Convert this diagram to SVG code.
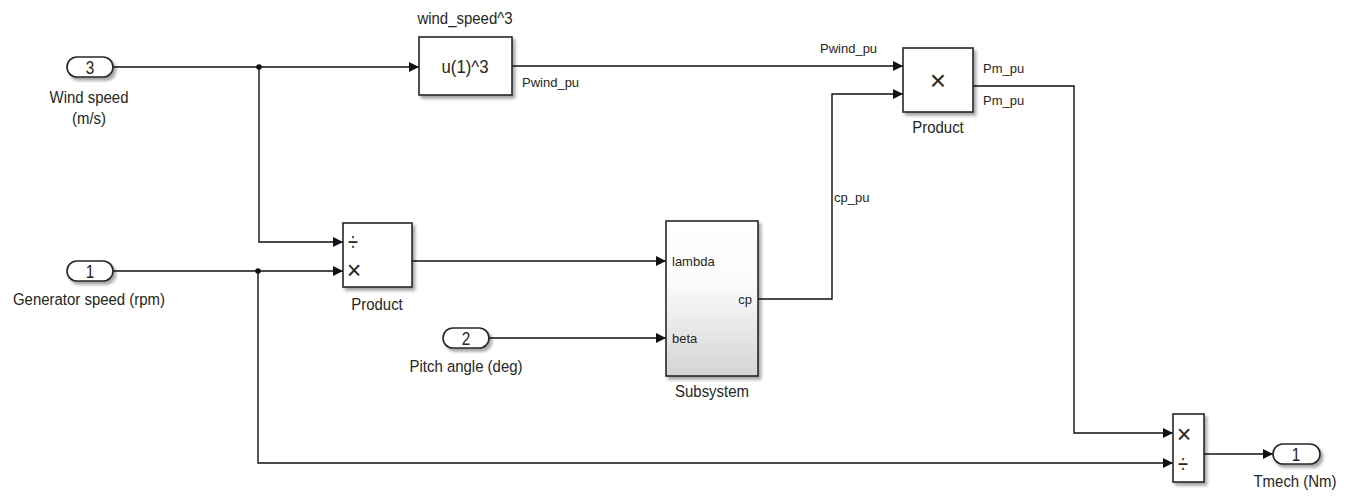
<svg xmlns="http://www.w3.org/2000/svg" width="1353" height="498" viewBox="0 0 1353 498">
<style>
  .blk { fill: #ffffff; stroke: #262626; stroke-width: 1.6; }
  .port { fill: #ffffff; stroke: #262626; stroke-width: 1.6; }
  .ln { fill: none; stroke: #111; stroke-width: 1.4; }
  .t { font-family: "Liberation Sans", Arial, sans-serif; fill: #262626; }
  .lbl { font-size: 17px; text-anchor: middle; }
  .num { font-size: 18px; text-anchor: middle; }
  .sig { font-size: 13px; }
</style>
<defs>
  <filter id="sh" x="-20%" y="-20%" width="150%" height="150%">
    <feDropShadow dx="2.5" dy="3" stdDeviation="1.8" flood-color="#000" flood-opacity="0.35"/>
  </filter>
  <linearGradient id="sub" x1="0" y1="0" x2="0" y2="1">
    <stop offset="0" stop-color="#ffffff"/>
    <stop offset="0.4" stop-color="#fbfbfb"/>
    <stop offset="1" stop-color="#d4d4d4"/>
  </linearGradient>
  <marker id="ar" viewBox="0 0 10 10" refX="10" refY="5" markerWidth="10" markerHeight="10" markerUnits="userSpaceOnUse" orient="auto">
    <path d="M0,0 L10,5 L0,10 z" fill="#111"/>
  </marker>
</defs>

<g id="connectors">
  <path class="ln" d="M113,67 H419" marker-end="url(#ar)"/>
  <path class="ln" d="M259,67 V242 H343" marker-end="url(#ar)"/>
  <path class="ln" d="M113,271 H343" marker-end="url(#ar)"/>
  <path class="ln" d="M258,271 V463 H1173" marker-end="url(#ar)"/>
  <path class="ln" d="M512,66 H903" marker-end="url(#ar)"/>
  <path class="ln" d="M412,261 H666" marker-end="url(#ar)"/>
  <path class="ln" d="M489,338 H666" marker-end="url(#ar)"/>
  <path class="ln" d="M758,299 H832 V94 H903" marker-end="url(#ar)"/>
  <path class="ln" d="M973,86 H1074 V433 H1173" marker-end="url(#ar)"/>
  <path class="ln" d="M1204,454 H1273" marker-end="url(#ar)"/>
  <circle cx="259" cy="67" r="2.8" fill="#111"/>
  <circle cx="258" cy="271" r="2.8" fill="#111"/>
  <text class="t sig" x="522" y="87">Pwind_pu</text>
  <text class="t sig" x="820" y="53">Pwind_pu</text>
  <text class="t sig" x="983" y="73">Pm_pu</text>
  <text class="t sig" x="983" y="105">Pm_pu</text>
  <text class="t sig" x="834" y="202">cp_pu</text>
</g>

<g id="in3">
  <rect class="port" x="67" y="57" width="46" height="20" rx="10" filter="url(#sh)"/>
  <text class="t num" transform="translate(90,73.5) scale(0.85,1)">3</text>
  <text class="t lbl" transform="translate(89,103) scale(0.88,1)">Wind speed</text>
  <text class="t lbl" transform="translate(89,124) scale(0.88,1)">(m/s)</text>
</g>

<g id="in1">
  <rect class="port" x="67" y="261" width="46" height="20" rx="10" filter="url(#sh)"/>
  <text class="t num" transform="translate(90,277.5) scale(0.85,1)">1</text>
  <text class="t lbl" transform="translate(89,305) scale(0.88,1)">Generator speed (rpm)</text>
</g>

<g id="in2">
  <rect class="port" x="443" y="328" width="46" height="20" rx="10" filter="url(#sh)"/>
  <text class="t num" transform="translate(466,344.5) scale(0.85,1)">2</text>
  <text class="t lbl" transform="translate(466,372) scale(0.88,1)">Pitch angle (deg)</text>
</g>

<g id="fcn">
  <rect class="blk" x="419" y="37" width="93" height="58" filter="url(#sh)"/>
  <text class="t" font-size="18" text-anchor="middle" transform="translate(465,73) scale(0.93,1)">u(1)^3</text>
  <text class="t lbl" transform="translate(465,24) scale(0.88,1)">wind_speed^3</text>
</g>

<g id="product_top">
  <rect class="blk" x="903" y="48" width="70" height="64" filter="url(#sh)"/>
  <text class="t" x="938" y="90" font-size="28" text-anchor="middle">×</text>
  <text class="t lbl" transform="translate(938,133) scale(0.88,1)">Product</text>
</g>

<g id="product_mid">
  <rect class="blk" x="343" y="223" width="69" height="64" filter="url(#sh)"/>
  <text class="t" font-size="26" text-anchor="middle" transform="translate(353,251) scale(0.7,1)">÷</text>
  <text class="t" x="354" y="279" font-size="25" text-anchor="middle">×</text>
  <text class="t lbl" transform="translate(377,310) scale(0.88,1)">Product</text>
</g>

<g id="subsystem">
  <rect x="666" y="221" width="92" height="155" fill="url(#sub)" stroke="#262626" stroke-width="1.6" filter="url(#sh)"/>
  <text class="t sig" x="672" y="266">lambda</text>
  <text class="t sig" x="672" y="343">beta</text>
  <text class="t sig" x="752" y="304" text-anchor="end">cp</text>
  <text class="t lbl" transform="translate(712,397) scale(0.88,1)">Subsystem</text>
</g>

<g id="product_out">
  <rect class="blk" x="1173" y="414" width="31" height="68" filter="url(#sh)"/>
  <text class="t" x="1184" y="443" font-size="25" text-anchor="middle">×</text>
  <text class="t" font-size="26" text-anchor="middle" transform="translate(1183,473) scale(0.7,1)">÷</text>
</g>

<g id="out1">
  <rect class="port" x="1273" y="444" width="47" height="20" rx="10" filter="url(#sh)"/>
  <text class="t num" transform="translate(1296,460.5) scale(0.85,1)">1</text>
  <text class="t lbl" transform="translate(1295,487) scale(0.88,1)">Tmech (Nm)</text>
</g>
</svg>
